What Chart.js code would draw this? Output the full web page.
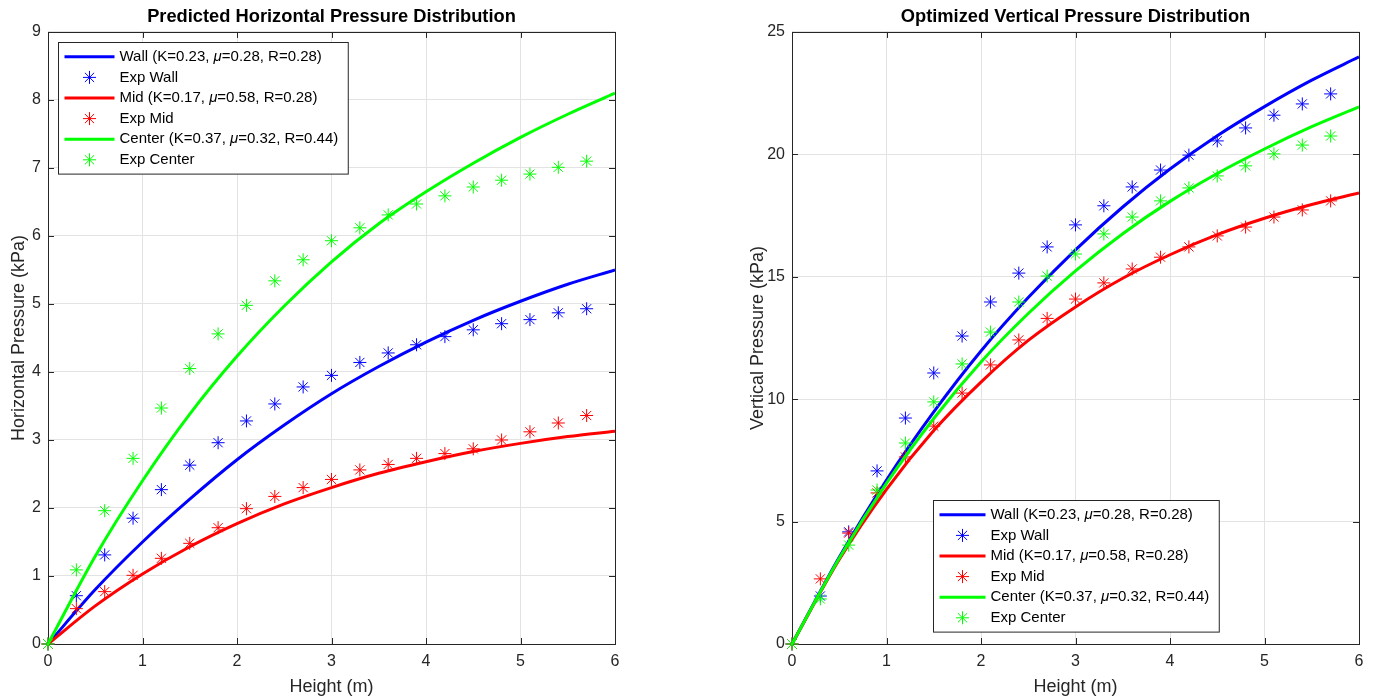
<!DOCTYPE html>
<html>
<head>
<meta charset="utf-8">
<script src="https://cdn.jsdelivr.net/npm/chart.js@4.4.1/dist/chart.umd.min.js"></script>
<style>
  html, body { margin: 0; padding: 0; background: #fff; }
  .row { display: flex; width: 1375px; height: 700px; }
  .panel { position: relative; height: 700px; }
  #leftPanel { width: 688px; }
  #rightPanel { width: 687px; }
</style>
</head>
<body>
<div class="row">
  <div class="panel" id="leftPanel"><canvas id="horizontalChart"></canvas></div>
  <div class="panel" id="rightPanel"><canvas id="verticalChart"></canvas></div>
</div>
<script>
// measured heights (m) and the heights used for the fitted curves
const heights = [0, 0.3, 0.6, 0.9, 1.2, 1.5, 1.8, 2.1, 2.4, 2.7, 3.0, 3.3, 3.6, 3.9, 4.2, 4.5, 4.8, 5.1, 5.4, 5.7];
const fitHeights = [0, 0.5, 1, 1.5, 2, 2.5, 3, 3.5, 4, 4.5, 5, 5.5, 6];

// horizontal pressure (kPa)
const fitWallH = [0, 0.80, 1.50, 2.13, 2.71, 3.22, 3.68, 4.08, 4.44, 4.76, 5.04, 5.29, 5.50];
const fitMidH = [0, 0.56, 1.03, 1.43, 1.77, 2.06, 2.30, 2.51, 2.68, 2.83, 2.95, 3.05, 3.13];
const fitCenterH = [0, 1.29, 2.40, 3.38, 4.23, 4.97, 5.62, 6.18, 6.65, 7.07, 7.45, 7.79, 8.10];
const expWallH = [0, 0.71, 1.31, 1.85, 2.27, 2.63, 2.96, 3.28, 3.53, 3.78, 3.95, 4.14, 4.28, 4.40, 4.52, 4.62, 4.71, 4.77, 4.87, 4.93];
const expMidH = [0, 0.52, 0.77, 1.01, 1.26, 1.48, 1.71, 1.99, 2.17, 2.30, 2.42, 2.56, 2.64, 2.73, 2.80, 2.87, 3.00, 3.12, 3.25, 3.36];
const expCenterH = [0, 1.09, 1.96, 2.73, 3.47, 4.05, 4.56, 4.98, 5.34, 5.65, 5.93, 6.12, 6.31, 6.47, 6.59, 6.72, 6.82, 6.91, 7.01, 7.10];

// vertical pressure (kPa)
const fitWallV = [0, 3.54, 6.70, 9.48, 11.97, 14.15, 16.10, 17.85, 19.40, 20.76, 21.95, 23.03, 23.98];
const fitMidV = [0, 3.45, 6.32, 8.72, 10.70, 12.40, 13.77, 14.94, 15.90, 16.72, 17.39, 17.95, 18.42];
const fitCenterV = [0, 3.50, 6.56, 9.21, 11.52, 13.50, 15.24, 16.76, 18.08, 19.22, 20.22, 21.13, 21.94];
const expWallV = [0, 1.96, 4.58, 7.07, 9.23, 11.07, 12.58, 13.97, 15.15, 16.22, 17.12, 17.90, 18.67, 19.36, 19.97, 20.55, 21.08, 21.60, 22.06, 22.47];
const expMidV = [0, 2.66, 4.53, 6.17, 7.64, 8.90, 10.25, 11.40, 12.42, 13.30, 14.09, 14.75, 15.32, 15.80, 16.22, 16.67, 17.03, 17.44, 17.73, 18.10];
const expCenterV = [0, 1.84, 4.04, 6.29, 8.21, 9.89, 11.44, 12.74, 13.97, 15.03, 15.93, 16.75, 17.44, 18.10, 18.63, 19.12, 19.53, 20.02, 20.38, 20.75];

const seriesLabels = ['Wall (K=0.23, μ=0.28, R=0.28)', 'Mid (K=0.17, μ=0.58, R=0.28)', 'Center (K=0.37, μ=0.32, R=0.44)'];
const expLabels = ['Exp Wall', 'Exp Mid', 'Exp Center'];
const seriesColors = ['#0000ff', '#ff0000', '#00ff00'];

const FONT = '"Liberation Sans", Arial, Helvetica, sans-serif';
Chart.defaults.font.family = FONT;
Chart.defaults.color = '#262626';

const pts = (xs, ys) => xs.map((x, i) => ({ x, y: ys[i] }));

function buildDatasets(fits, exps) {
    const ds = [];
    fits.forEach((fit, i) => {
        ds.push({
            label: seriesLabels[i],
            data: pts(fitHeights, fit),
            borderColor: seriesColors[i],
            borderWidth: 3,
            pointRadius: 0,
            cubicInterpolationMode: 'monotone',
            fill: false
        });
        ds.push({
            label: expLabels[i],
            data: pts(heights, exps[i]),
            showLine: false,
            pointStyle: 'star',
            pointRadius: 6.5,
            pointBorderWidth: 1,
            borderColor: seriesColors[i],
            backgroundColor: seriesColors[i],
            clip: false
        });
    });
    // later series sit on top
    ds.forEach((d, i) => d.order = ds.length - i);
    return ds;
}

// box around the axes with inward tick marks on all four sides
const axesBox = {
    id: 'axesBox',
    beforeDatasetsDraw(chart) {
        const { ctx, chartArea: a, scales } = chart;
        const len = 6;
        ctx.save();
        ctx.strokeStyle = '#262626';
        ctx.lineWidth = 1;
        ctx.beginPath();
        scales.x.ticks.forEach(t => {
            const px = Math.round(scales.x.getPixelForValue(t.value)) + 0.5;
            ctx.moveTo(px, a.bottom); ctx.lineTo(px, a.bottom - len);
            ctx.moveTo(px, a.top); ctx.lineTo(px, a.top + len);
        });
        scales.y.ticks.forEach(t => {
            const py = Math.round(scales.y.getPixelForValue(t.value)) + 0.5;
            ctx.moveTo(a.left, py); ctx.lineTo(a.left + len, py);
            ctx.moveTo(a.right, py); ctx.lineTo(a.right - len, py);
        });
        ctx.stroke();
        ctx.strokeRect(Math.round(a.left) + 0.5, Math.round(a.top) + 0.5,
            Math.round(a.right - a.left), Math.round(a.bottom - a.top));
        ctx.restore();
    }
};

// legend drawn inside the axes, with an italic mu
const boxLegend = {
    id: 'boxLegend',
    afterDatasetsDraw(chart, args, opts) {
        const { ctx, chartArea: a } = chart;
        const font = '15px ' + FONT;
        const italic = 'italic 15px ' + FONT;
        const rowH = 20.6, sample = opts.sample, padL = 6, gap = 5, padR = 10, padV = 4;
        const items = chart.data.datasets;
        ctx.save();
        const measure = t => {
            const parts = t.split('μ');
            ctx.font = font;
            let w = parts.reduce((s, p) => s + ctx.measureText(p).width, 0);
            ctx.font = italic;
            w += (parts.length - 1) * ctx.measureText('μ').width;
            return w;
        };
        const maxW = Math.max(...items.map(d => measure(d.label)));
        const w = padL + sample + gap + maxW + padR;
        const h = items.length * rowH + 2 * padV;
        let left, top;
        if (opts.where === 'south') {
            left = (a.left + a.right) / 2 - w / 2;
            top = a.bottom - 12 - h;
        } else {
            left = a.left + 10;
            top = a.top + 10;
        }
        left = Math.round(left) + 0.5;
        top = Math.round(top) + 0.5;
        ctx.fillStyle = '#fff';
        ctx.fillRect(left, top, w, h);
        ctx.strokeStyle = '#262626';
        ctx.lineWidth = 1;
        ctx.strokeRect(left, top, w, h);

        items.forEach((d, i) => {
            const cy = top + padV + rowH * (i + 0.5);
            const sx = left + padL;
            ctx.strokeStyle = d.borderColor;
            ctx.fillStyle = d.borderColor;
            if (d.showLine === false) {
                ctx.lineWidth = 1;
                Chart.helpers.drawPoint(ctx, { pointStyle: 'star', radius: 6.5, borderWidth: 1, rotation: 0 }, sx + sample / 2, cy);
            } else {
                ctx.lineWidth = 3;
                ctx.beginPath();
                ctx.moveTo(sx, cy);
                ctx.lineTo(sx + sample, cy);
                ctx.stroke();
            }
            let tx = sx + sample + gap;
            ctx.fillStyle = '#000';
            ctx.textBaseline = 'middle';
            const parts = d.label.split('μ');
            parts.forEach((p, k) => {
                ctx.font = font;
                ctx.fillText(p, tx, cy);
                tx += ctx.measureText(p).width;
                if (k < parts.length - 1) {
                    ctx.font = italic;
                    ctx.fillText('μ', tx, cy);
                    tx += ctx.measureText('μ').width;
                }
            });
        });
        ctx.restore();
    }
};

function makeChart(id, cfg) {
    return new Chart(document.getElementById(id), {
        type: 'line',
        data: { datasets: buildDatasets(cfg.fits, cfg.exps) },
        plugins: [axesBox, boxLegend],
        options: {
            responsive: true,
            maintainAspectRatio: false,
            animation: false,
            layout: { padding: { left: cfg.padLeft, right: cfg.padRight, top: 0, bottom: 0 } },
            plugins: {
                legend: { display: false },
                tooltip: { enabled: false },
                title: {
                    display: true,
                    text: cfg.title,
                    fullSize: false,
                    color: '#000',
                    font: { size: 18.3, weight: 'bold' },
                    padding: { top: 6, bottom: 4 }
                },
                boxLegend: { where: cfg.legendAt, sample: cfg.legendSample }
            },
            scales: {
                x: {
                    type: 'linear',
                    min: 0,
                    max: 6,
                    ticks: { stepSize: 1, padding: 8, font: { size: 16 }, color: '#262626' },
                    grid: { color: '#e3e3e3', drawTicks: false },
                    border: { display: false },
                    title: { display: true, text: 'Height (m)', font: { size: 18 }, color: '#262626', padding: { top: 0, bottom: 2 } },
                    afterFit(scale) { scale.height = 56; }
                },
                y: {
                    type: 'linear',
                    min: 0,
                    max: cfg.yMax,
                    ticks: { stepSize: cfg.yStep, padding: 7, font: { size: 16 }, color: '#262626' },
                    grid: { color: '#e3e3e3', drawTicks: false },
                    border: { display: false },
                    title: { display: true, text: cfg.yTitle, font: { size: 18 }, color: '#262626', padding: { top: 8, bottom: 0 } },
                    afterFit(scale) { scale.width = cfg.yWidth; }
                }
            }
        }
    });
}

makeChart('horizontalChart', {
    title: 'Predicted Horizontal Pressure Distribution',
    yTitle: 'Horizontal Pressure (kPa)',
    yMax: 9,
    yStep: 1,
    fits: [fitWallH, fitMidH, fitCenterH],
    exps: [expWallH, expMidH, expCenterH],
    legendAt: 'northwest',
    legendSample: 50,
    padLeft: 0,
    padRight: 73,
    yWidth: 48
});

makeChart('verticalChart', {
    title: 'Optimized Vertical Pressure Distribution',
    yTitle: 'Vertical Pressure (kPa)',
    yMax: 25,
    yStep: 5,
    fits: [fitWallV, fitMidV, fitCenterV],
    exps: [expWallV, expMidV, expCenterV],
    legendAt: 'south',
    legendSample: 46,
    padLeft: 51,
    padRight: 16,
    yWidth: 53
});
</script>
</body>
</html>
